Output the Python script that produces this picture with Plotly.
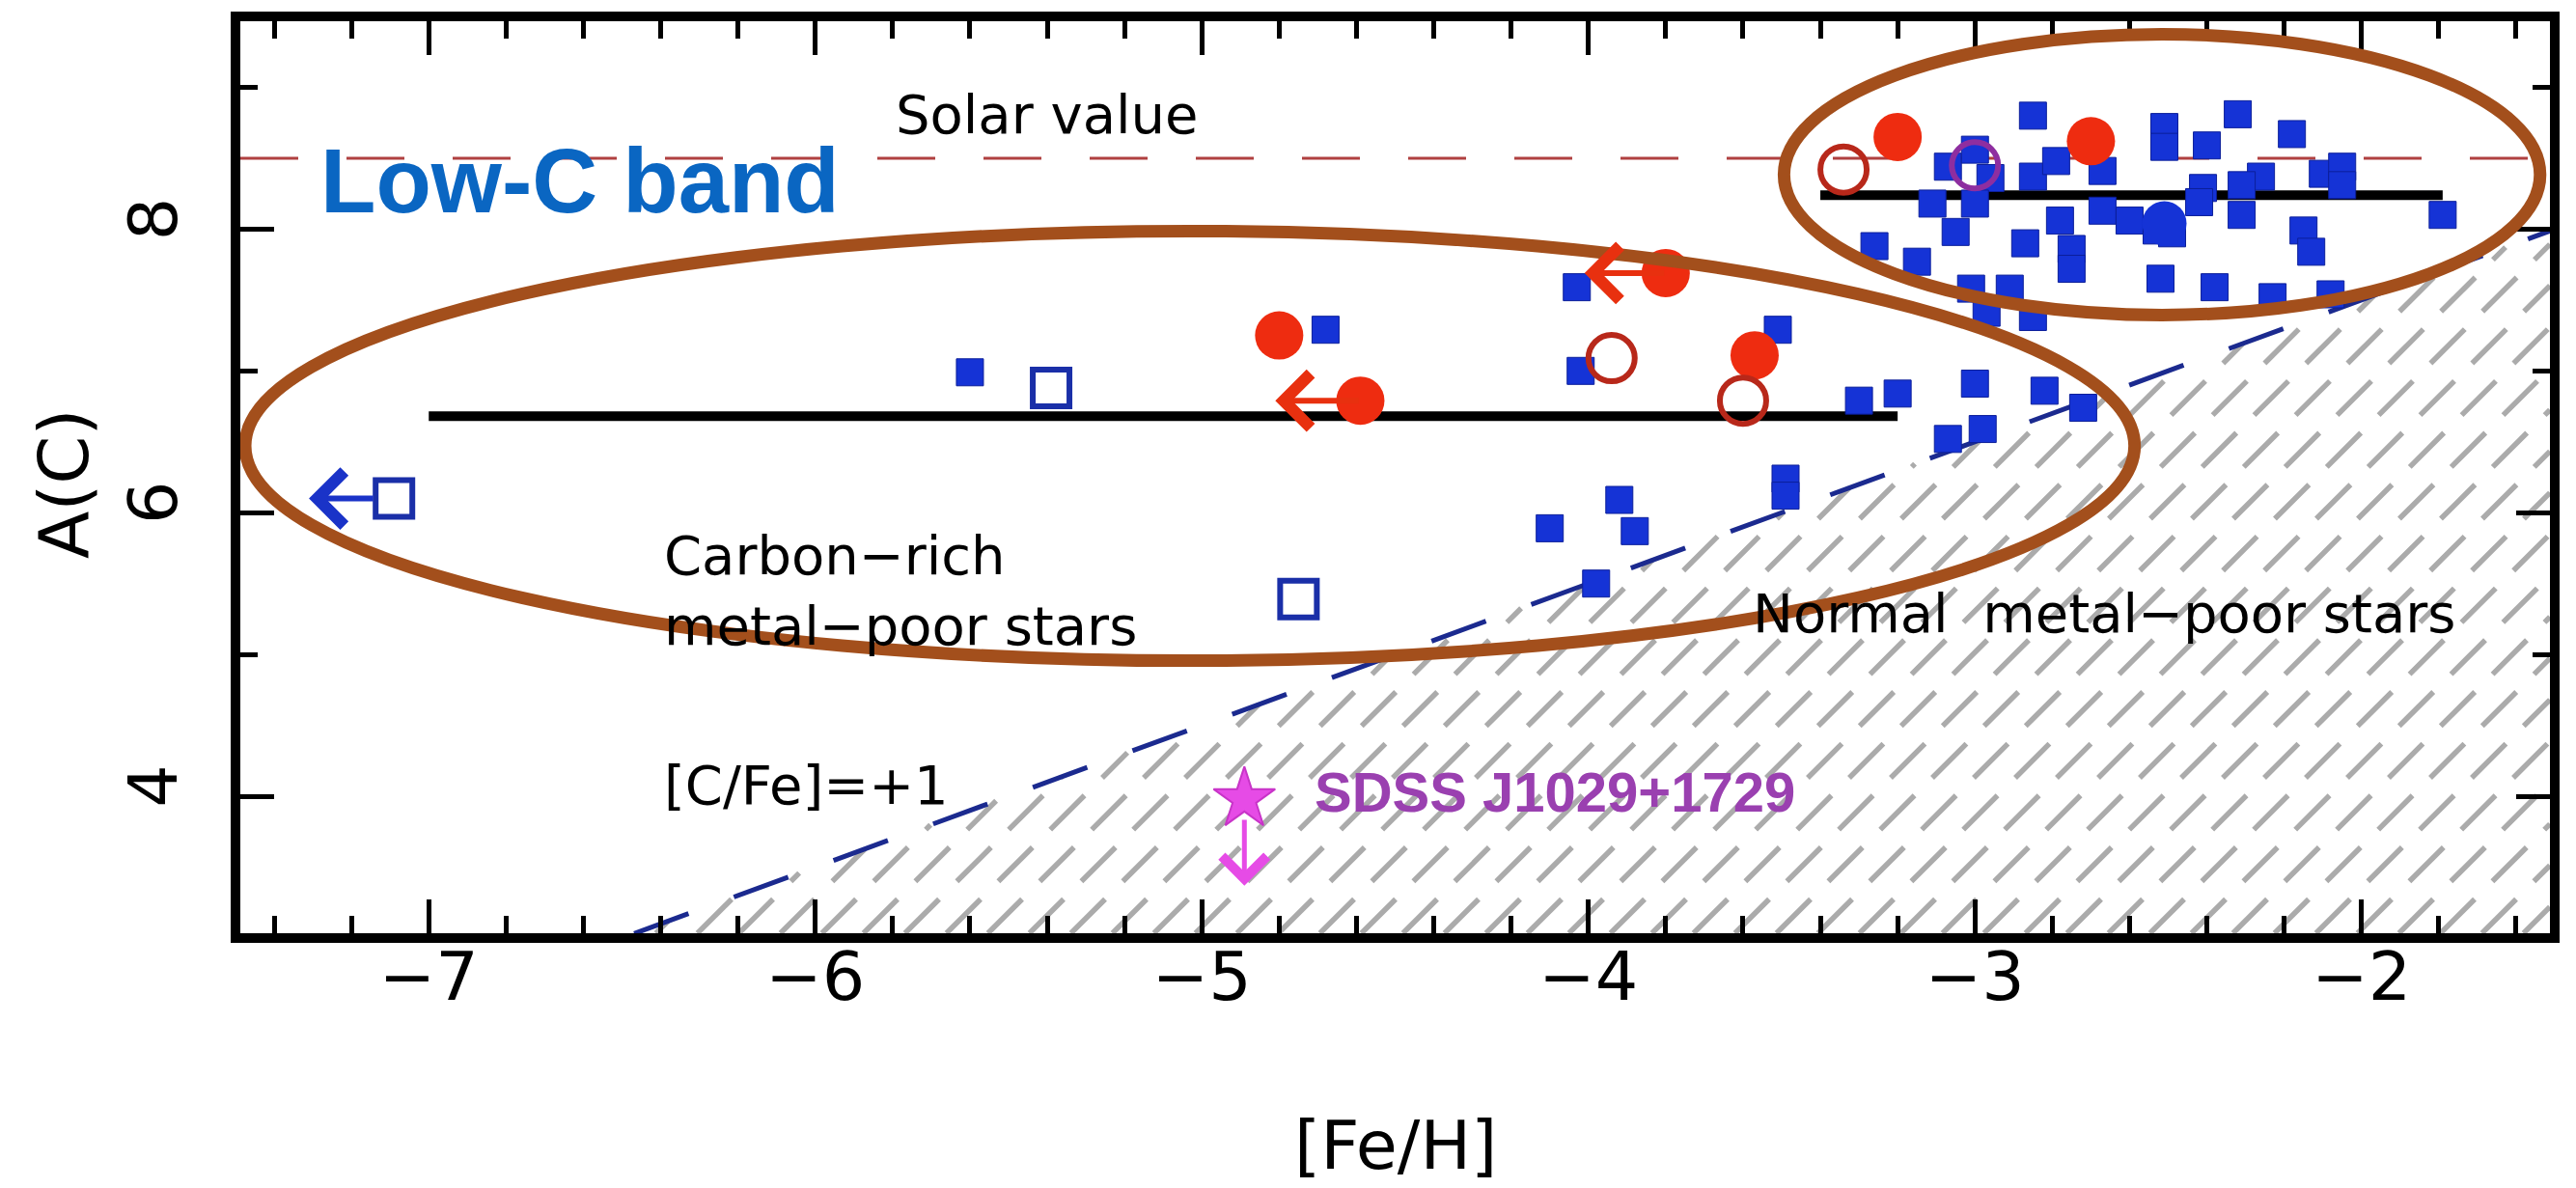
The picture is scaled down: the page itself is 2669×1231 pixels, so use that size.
import numpy as np
import plotly.graph_objects as go

# ---------------- data ----------------
# CEMP / metal-poor stars: filled blue squares ([Fe/H], A(C))
sq_feh = [-2.85, -3.07, -3.00, -2.96, -2.85, -2.79, -2.67, -3.11, -3.00, -3.05,
          -3.26, -3.15, -2.87, -2.78, -2.75, -2.75, -2.67, -2.60, -2.53, -2.52,
          -3.01, -2.91, -2.97, -2.85, -2.51, -2.51, -2.32, -2.40, -2.18, -2.10,
          -2.05, -2.05, -2.26, -2.31, -2.41, -2.42, -2.31, -2.49, -2.15, -2.13,
          -1.79, -2.38, -2.23, -2.08,
          -3.51, -3.30, -3.20, -3.00, -2.82, -2.72, -2.98, -3.07,
          -4.03, -4.02, -4.10, -3.92, -3.88, -3.49, -3.49, -3.98, -4.68, -5.60]
sq_ac = [8.80, 8.44, 8.56, 8.36, 8.37, 8.48, 8.41, 8.18, 8.18, 7.98,
         7.88, 7.77, 7.90, 8.06, 7.86, 7.72, 8.13, 8.06, 7.99, 7.65,
         7.58, 7.58, 7.41, 7.38, 8.72, 8.58, 8.81, 8.59, 8.67, 8.39,
         8.44, 8.31, 8.37, 8.31, 8.29, 8.19, 8.10, 7.97, 7.99, 7.84,
         8.10, 7.59, 7.52, 7.54,
         7.29, 6.79, 6.84, 6.91, 6.86, 6.74, 6.59, 6.52,
         7.59, 7.00, 5.89, 6.09, 5.87, 6.24, 6.12, 5.50, 7.29, 6.99]

# filled blue circle
bc_feh = [-2.51]
bc_ac = [8.04]

# open blue squares
osq_feh = [-7.09, -5.39, -4.75]
osq_ac = [6.10, 6.88, 5.39]

# filled red circles
rc_feh = [-4.80, -4.59, -3.80, -3.57, -3.20, -2.70]
rc_ac = [7.25, 6.79, 7.69, 7.11, 8.65, 8.62]

# open red circles
orc_feh = [-3.94, -3.60, -3.34]
orc_ac = [7.09, 6.79, 8.42]

# open purple circle
pc_feh = [-3.00]
pc_ac = [8.45]

# SDSS J1029+1729 (upper limit)
star_feh = [-4.89]
star_ac = [3.98]

# upper limits on [Fe/H] (start, end) and A(C)
lim_feh_from = [-7.09, -4.59, -3.80]
lim_feh_to = [-7.31, -4.81, -4.01]
lim_ac = [6.10, 6.79, 7.69]
lim_color = ["#1a33c8", "#e8300f", "#e8300f"]
lim_standoff = [20, 0, 0]
star_lim_to = 3.37

# mean A(C) of the two carbon bands
band_feh = [[-7.00, -3.20], [-3.40, -1.79]]
band_ac = [6.68, 8.24]

# solar carbon abundance
solar_ac = 8.50

# [C/Fe] = +1 reference line
cfe_feh = [-7.5, -1.5]
cfe_ac = [2.0, 8.0]

# groupings (x0, x1, y0, y1)
groups = [
    (-7.475, -2.587, 4.956, 7.986),
    (-3.494, -1.538, 7.394, 9.374),
]

# ---------------- layout geometry ----------------
W, H = 2669, 1231
ML, MR, MT, MB = 249, 27, 20, 264
xr = [-7.4875, -1.5125]
yr = [3.034, 9.466]
pw, ph = W - ML - MR, H - MT - MB
ppx = pw / (xr[1] - xr[0])
ppy = ph / (yr[1] - yr[0])

FONT = "DejaVu Sans"
BOLD = "Liberation Sans"

fig = go.Figure()

# hatched region below [C/Fe] = +1 (45 degrees on screen)
k = ppx / ppy
m = (cfe_ac[1] - cfe_ac[0]) / (cfe_feh[1] - cfe_feh[0])
b = cfe_ac[0] - m * cfe_feh[0]
y0 = yr[0]
x_start = (y0 - b) / m
step = 43.0 / ppx
hx, hy = [], []
for c in np.arange(x_start + step * 0.5, xr[1], step):
    xe = (b - y0 + k * c) / (k - m)
    if xe > xr[1]:
        xe = xr[1]
    ye = y0 + k * (xe - c)
    hx += [c, xe, None]
    hy += [y0, ye, None]
fig.add_trace(go.Scatter(x=hx, y=hy, mode="lines", hoverinfo="skip",
                         line=dict(color="#ababab", width=5.5, dash="50px,26px")))

# [C/Fe] = +1 line
fig.add_trace(go.Scatter(x=cfe_feh, y=cfe_ac, mode="lines",
                         line=dict(color="#1b2a8f", width=5, dash="60px,50px")))

# solar value
fig.add_trace(go.Scatter(x=[xr[0], xr[1]], y=[solar_ac, solar_ac], mode="lines",
                         line=dict(color="#b04040", width=3, dash="60px,50px")))

# band means
for fx, ac in zip(band_feh, band_ac):
    fig.add_trace(go.Scatter(x=fx, y=[ac, ac], mode="lines",
                             line=dict(color="black", width=10)))

# markers
fig.add_trace(go.Scatter(x=sq_feh, y=sq_ac, mode="markers",
                         marker=dict(symbol="square", size=28, color="#1533d6",
                                     line=dict(color="#0c1f9a", width=1))))
fig.add_trace(go.Scatter(x=bc_feh, y=bc_ac, mode="markers",
                         marker=dict(symbol="circle", size=46, color="#1533d6",
                                     line=dict(width=0))))
fig.add_trace(go.Scatter(x=osq_feh, y=osq_ac, mode="markers",
                         marker=dict(symbol="square-open", size=38, color="#1a2fa8",
                                     line=dict(color="#1a2fa8", width=6))))
fig.add_trace(go.Scatter(x=rc_feh, y=rc_ac, mode="markers",
                         marker=dict(symbol="circle", size=50, color="#ee2c10",
                                     line=dict(width=0))))
fig.add_trace(go.Scatter(x=orc_feh, y=orc_ac, mode="markers",
                         marker=dict(symbol="circle-open", size=48, color="#b8281a",
                                     line=dict(color="#b8281a", width=6))))
fig.add_trace(go.Scatter(x=pc_feh, y=pc_ac, mode="markers",
                         marker=dict(symbol="circle-open", size=48, color="#8e2ea0",
                                     line=dict(color="#8e2ea0", width=6))))
fig.add_trace(go.Scatter(x=star_feh, y=star_ac, mode="markers",
                         marker=dict(symbol="star", size=48, color="#e64be6",
                                     line=dict(color="#c834c8", width=2))))

annotations = []
# upper-limit arrows
for f0, f1, ac, col, so in zip(lim_feh_from, lim_feh_to, lim_ac, lim_color, lim_standoff):
    annotations.append(dict(x=f1, y=ac, ax=f0, ay=ac, xref="x", yref="y",
                            axref="x", ayref="y", showarrow=True, arrowhead=4,
                            arrowsize=1.8, arrowwidth=6, arrowcolor=col,
                            startstandoff=so, text=""))
annotations.append(dict(x=star_feh[0], y=star_lim_to, ax=star_feh[0], ay=star_ac[0],
                        xref="x", yref="y", axref="x", ayref="y", showarrow=True,
                        arrowhead=4, arrowsize=1.8, arrowwidth=5, arrowcolor="#e64be6",
                        startstandoff=20, text=""))


def label(txt, x, y, size=56, color="black", family=FONT, bold=False):
    t = f"<b>{txt}</b>" if bold else txt
    annotations.append(dict(x=x, y=y, xref="x", yref="y", text=t, showarrow=False,
                            xanchor="left", yanchor="middle", align="left",
                            font=dict(family=family, size=size, color=color)))


label("Solar value", -5.797, 8.81)
label("Low-C band", -7.285, 8.34, size=94, color="#0a66c2", family=BOLD, bold=True)
label("Carbon−rich<br>metal−poor stars", -6.396, 5.45)
label("Normal  metal−poor stars", -3.580, 5.29)
label("[C/Fe]=+1", -6.396, 4.08)
label("SDSS J1029+1729", -4.713, 4.03, size=58, color="#9a40b0", family=BOLD, bold=True)

# axis titles
annotations.append(dict(x=0.5, y=-0.233, xref="paper", yref="paper", text="[Fe/H]",
                        showarrow=False, xanchor="center", yanchor="middle",
                        font=dict(family=FONT, size=70, color="black")))
annotations.append(dict(x=-0.0765, y=0.493, xref="paper", yref="paper", text="A(C)",
                        showarrow=False, xanchor="center", yanchor="middle", textangle=-90,
                        font=dict(family=FONT, size=72, color="black")))

shapes = []
for gx0, gx1, gy0, gy1 in groups:
    shapes.append(dict(type="circle", xref="x", yref="y", x0=gx0, x1=gx1, y0=gy0, y1=gy1,
                       line=dict(color="#a34f1c", width=13), layer="above"))

axis_common = dict(showline=True, linewidth=10, linecolor="black", mirror="allticks",
                   ticks="inside", tickcolor="black", tickwidth=5, ticklen=35,
                   showgrid=False, zeroline=False,
                   tickfont=dict(family=FONT, size=70, color="black"))

fig.update_layout(
    width=W, height=H,
    margin=dict(l=ML, r=MR, t=MT, b=MB),
    paper_bgcolor="white", plot_bgcolor="white",
    showlegend=False,
    xaxis=dict(range=xr, tickmode="linear", tick0=-7, dtick=1,
               minor=dict(dtick=0.2, ticks="inside", ticklen=18, tickwidth=5,
                          tickcolor="black"),
               ticklabelstandoff=-25, **axis_common),
    yaxis=dict(range=yr, tickmode="linear", tick0=0, dtick=2, tickangle=-90,
               minor=dict(dtick=1, ticks="inside", ticklen=18, tickwidth=5,
                          tickcolor="black"),
               ticklabelstandoff=28, **axis_common),
    annotations=annotations,
    shapes=shapes,
)

fig.write_html("out.html")
